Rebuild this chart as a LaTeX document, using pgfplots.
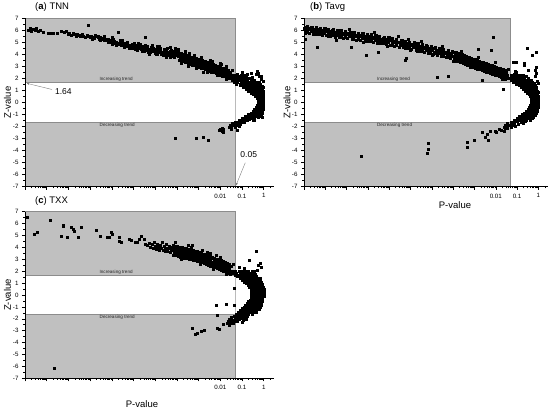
\documentclass[border=0pt]{standalone}
\usepackage{fontspec}
\setmainfont{Liberation Sans}
\usepackage{pgfplots}
\pgfplotsset{compat=1.18}
\usetikzlibrary{arrows.meta}
\definecolor{bggray}{RGB}{192,192,192}
\definecolor{edgegray}{RGB}{140,140,140}
\def\mlist{-12}
\foreach \k in {-11,...,0}{%
  \foreach \m in {0.301,0.477,0.602,0.699,0.778,0.845,0.903,0.954}{%
    \pgfmathparse{\k+\m}\xdef\mlist{\mlist,\pgfmathresult}}}
\pgfplotsset{panel/.style={
  scale only axis, anchor=south west, clip=false, axis on top,
  xmin=-11, xmax=0.45, ymin=-7, ymax=7,
  axis x line*=bottom, axis y line*=left, axis line style={-, black, line width=0.6pt},
  xtick={-11,...,0}, xticklabels={,,,,,,,,,0.01,0.1,1},
  minor xtick/.expanded={\mlist},
  ytick={-7,...,7}, minor y tick num=1,
  tick align=outside, major tick length=3pt, minor tick length=1.6pt,
  tick style={black, line width=0.5pt},
  tick label style={font=\fontsize{6.2}{7}\selectfont},
  xticklabel style={yshift=-0.5pt},
  /pgf/number format/assume math mode=true,
  ylabel={Z-value},
  ylabel style={font=\fontsize{9.5}{10}\selectfont, at={(axis description cs:-0.07,0.5)}, anchor=center},
},
pts/.style={only marks, mark=square*, mark size=1.0pt, black}}
\newcommand\regions{%
  \fill[bggray, draw=edgegray, line width=0.6pt] (axis cs:-11,1.64) rectangle (axis cs:-1.301,7);
  \fill[bggray, draw=edgegray, line width=0.6pt] (axis cs:-11,-7) rectangle (axis cs:-1.301,-1.64);
  \draw[edgegray!60, line width=0.5pt] (axis cs:-1.301,-1.64) -- (axis cs:-1.301,1.64);
  \node[font=\fontsize{4.6}{5}\selectfont, text=black!85, anchor=south, inner sep=0.6pt] at (axis cs:-6.8,1.66) {Increasing trend};
  \node[font=\fontsize{4.6}{5}\selectfont, text=black!85, anchor=north, inner sep=0.6pt] at (axis cs:-6.75,-1.66) {Decreasing trend};
}
\begin{document}
\begin{tikzpicture}
\useasboundingbox (0,0) rectangle (550pt,410pt);
% ---------------- (a) TNN ----------------
\begin{axis}[panel, at={(25pt,223.3pt)}, width=248.5pt, height=168.4pt]
\regions
\addplot[pts] coordinates {
(-10.85,6.05) (-10.75,6.15) (-10.7,5.95) (-10.62,6.1) (-10.55,6.0) (-10.48,6.2) (-10.4,5.9) (-10.3,6.05) (-10.15,5.85) (-9.95,5.75) (-9.8,5.72) (-9.7,5.8) (-9.5,5.75) (-9.35,5.9) (-9.2,5.85) (-9.1,5.95) (-9.02,5.7) (-8.95,5.8) (-8.88,5.6) (-8.8,5.75) (-8.72,5.65) (-8.65,5.55) (-8.6,5.7) (-8.52,5.6) (-8.45,5.5) (-8.38,5.65) (-8.3,5.55) (-8.22,5.45) (-8.1,6.45) (-8.15,5.6) (-8.08,5.5) (-8.0,5.4) (-7.95,5.55) (-7.88,5.45) (-7.8,5.35) (-7.72,5.5) (-7.65,5.4) (-7.6,5.3) (-7.52,5.45) (-7.45,5.25) (-7.4,5.35) (-7.33,5.2) (-7.28,5.3) (-7.2,5.15) (-7.15,5.25) (-7.08,5.05) (-7.02,5.2) (-6.95,5.0) (-6.9,5.1) (-6.85,4.9) (-6.78,5.05) (-6.72,4.95) (-6.7,5.85) (-6.65,4.85) (-6.6,5.0) (-6.55,4.8) (-6.5,4.9) (-6.45,4.75) (-6.4,4.95) (-6.35,4.7) (-6.3,4.85) (-6.25,4.65) (-6.2,4.8) (-6.15,4.75) (-6.1,4.6) (-6.05,4.85) (-6.0,4.7) (-5.95,4.55) (-5.9,4.75) (-5.85,4.6) (-5.8,4.5) (-5.75,4.7) (-5.7,4.55) (-5.65,4.45) (-5.6,4.65) (-5.55,4.4) (-5.5,4.6) (-5.45,5.4) (-5.45,4.5) (-5.4,4.35) (-5.35,4.55) (-5.3,4.45) (-5.25,4.3) (-5.2,4.5) (-5.15,4.4) (-5.1,4.25) (-5.05,4.45) (-5.0,4.35) (-4.95,4.2) (-4.9,4.4) (-4.85,4.3) (-4.8,4.15) (-4.75,4.35) (-4.7,4.2) (-4.65,4.1) (-4.6,4.3) (-4.55,4.05) (-4.5,4.2) (-4.45,4.5) (-4.4,4.0) (-4.35,4.15) (-4.3,4.25) (-4.25,3.95) (-4.2,4.1) (-4.15,3.85) (-4.1,4.05) (-4.05,4.2) (-4.0,3.9)
(-5.92,4.4) (-5.78,4.8) (-5.62,4.3) (-5.48,4.75) (-5.33,4.2) (-5.18,4.62) (-5.02,4.12) (-4.88,4.55) (-4.72,4.0) (-4.58,4.45) (-4.42,3.9) (-4.28,4.38) (-4.12,3.75) (-4.02,4.3) (-6.8,4.75) (-6.5,5.15) (-6.22,4.5) (-7.62,5.55) (-7.0,4.85) (-5.12,4.78) (-4.82,4.68) (-6.95,5.3) (-6.35,4.95) (-5.7,4.85) (-4.95,4.0) (-4.6,3.95) (-4.3,3.8) (-3.95,4.45)
(-7.9,5.25) (-7.75,5.62) (-7.55,5.15) (-7.35,5.5) (-7.18,5.0) (-6.98,5.42) (-6.82,4.8) (-6.62,5.2) (-6.42,4.62) (-6.28,5.05) (-6.12,4.48) (-5.98,4.92) (-5.82,4.35) (-5.68,4.62) (-5.52,4.25) (-5.38,4.65) (-5.22,4.15) (-5.08,4.55) (-4.92,4.05) (-4.78,4.48) (-4.62,3.92) (-4.48,4.32) (-4.32,3.88) (-4.18,4.25)
(-3.9,3.52) (-3.87,3.7) (-3.93,3.86) (-3.85,4.0) (-3.92,4.18)
(-3.8,3.48) (-3.77,3.64) (-3.83,3.8) (-3.75,3.97) (-3.82,4.12)
(-3.7,3.4) (-3.67,3.57) (-3.73,3.72) (-3.65,3.88) (-3.72,4.05)
(-3.6,3.32) (-3.57,3.5) (-3.63,3.66) (-3.55,3.8) (-3.62,3.98)
(-3.5,3.28) (-3.47,3.44) (-3.53,3.6) (-3.45,3.76) (-3.52,3.92)
(-3.4,3.2) (-3.37,3.37) (-3.43,3.53) (-3.35,3.7) (-3.42,3.86)
(-3.3,3.14) (-3.27,3.3) (-3.33,3.47) (-3.25,3.63) (-3.32,3.8)
(-3.2,3.07) (-3.17,3.24) (-3.23,3.4) (-3.15,3.56) (-3.22,3.72)
(-3.1,3.0) (-3.07,3.17) (-3.13,3.34) (-3.05,3.5) (-3.12,3.66)
(-3.0,2.95) (-2.97,3.12) (-3.03,3.28) (-2.95,3.44) (-3.02,3.6)
(-2.9,2.88) (-2.87,3.05) (-2.93,3.22) (-2.85,3.38) (-2.92,3.55)
(-2.8,2.82) (-2.77,2.98) (-2.83,3.15) (-2.75,3.3) (-2.82,3.48)
(-2.7,2.76) (-2.67,2.93) (-2.73,3.1) (-2.65,3.26) (-2.72,3.42)
(-2.6,2.68) (-2.57,2.85) (-2.63,3.02) (-2.55,3.18) (-2.62,3.35)
(-2.5,2.62) (-2.47,2.8) (-2.53,2.96) (-2.45,3.12) (-2.52,3.28)
(-2.4,2.56) (-2.37,2.73) (-2.43,2.9) (-2.35,3.06) (-2.42,3.22)
(-2.3,2.5) (-2.27,2.66) (-2.33,2.83) (-2.25,3.0) (-2.32,3.15)
(-2.2,2.42) (-2.17,2.6) (-2.23,2.76) (-2.15,2.92) (-2.22,3.08)
(-2.1,2.36) (-2.07,2.53) (-2.13,2.7) (-2.05,2.86) (-2.12,3.02)
(-2.0,2.3) (-1.97,2.46) (-2.03,2.63) (-1.95,2.8) (-2.02,2.95)
(-1.9,2.22) (-1.87,2.4) (-1.93,2.56) (-1.85,2.72) (-1.92,2.88)
(-1.8,2.15) (-1.77,2.33) (-1.83,2.5) (-1.75,2.66) (-1.82,2.82)
(-1.7,2.08) (-1.67,2.26) (-1.73,2.43) (-1.65,2.6) (-1.72,2.76)
(-1.6,2.0) (-1.57,2.18) (-1.63,2.36) (-1.55,2.52) (-1.62,2.68)
(-3.6,4.3) (-3.2,3.95) (-2.45,3.55) (-2.0,3.25) (-1.75,3.05) (-4.3,4.6) (-2.8,2.55) (-3.5,3.05)
(-1.5,2.3) (-1.35,2.28) (-1.2,2.32) (-1.05,2.3) (-0.9,2.27) (-0.6,2.4) (-0.3,2.6)
(-1.52,2.15) (-1.38,2.17) (-1.24,2.14) (-1.1,2.16) (-0.96,2.13) (-0.82,2.15) (-0.2,2.2)
(-1.5,2.0) (-1.36,1.98) (-1.22,2.02) (-1.08,1.99) (-0.94,2.01) (-0.8,1.98) (-0.66,2.0) (-0.1,1.95)
(-1.45,1.85) (-1.3,1.83) (-1.16,1.86) (-1.02,1.84) (-0.88,1.86) (-0.74,1.83) (-0.6,1.85) (-0.45,1.87)
(-1.35,1.7) (-1.2,1.68) (-1.06,1.71) (-0.92,1.69) (-0.78,1.71) (-0.64,1.68) (-0.5,1.7) (-0.36,1.72) (-0.2,1.7)
(-1.25,1.55) (-1.1,1.53) (-0.96,1.56) (-0.82,1.54) (-0.68,1.56) (-0.54,1.53) (-0.4,1.55) (-0.26,1.57) (-0.14,1.54)
(-1.1,1.4) (-0.96,1.38) (-0.82,1.41) (-0.68,1.39) (-0.55,1.41) (-0.42,1.38) (-0.3,1.4) (-0.18,1.42) (-0.08,1.38)
(-0.95,1.25) (-0.82,1.23) (-0.7,1.26) (-0.58,1.24) (-0.46,1.26) (-0.35,1.23) (-0.24,1.25) (-0.14,1.27) (-0.05,1.3)
(-0.8,1.1) (-0.68,1.08) (-0.57,1.11) (-0.46,1.09) (-0.36,1.11) (-0.26,1.08) (-0.17,1.1) (-0.08,1.12)
(-0.7,0.95) (-0.58,0.93) (-0.47,0.96) (-0.37,0.94) (-0.28,0.96) (-0.19,0.93) (-0.11,0.95) (-0.04,0.97)
(-0.58,0.8) (-0.47,0.78) (-0.37,0.81) (-0.28,0.79) (-0.2,0.81) (-0.12,0.78) (-0.05,0.8)
(-0.48,0.65) (-0.38,0.63) (-0.29,0.66) (-0.21,0.64) (-0.14,0.66) (-0.07,0.63) (-0.02,0.65)
(-0.4,0.5) (-0.31,0.48) (-0.23,0.51) (-0.16,0.49) (-0.1,0.51) (-0.04,0.48) (-0.01,0.5)
(-0.32,0.35) (-0.24,0.33) (-0.17,0.36) (-0.11,0.34) (-0.06,0.36) (-0.02,0.33)
(-0.27,0.2) (-0.2,0.18) (-0.14,0.21) (-0.08,0.19) (-0.04,0.21) (-0.01,0.18)
(-0.25,0.05) (-0.18,0.03) (-0.12,0.06) (-0.07,0.04) (-0.03,0.06) (-0.01,0.03)
(-0.27,-0.1) (-0.2,-0.12) (-0.13,-0.09) (-0.08,-0.11) (-0.04,-0.09) (-0.01,-0.12)
(-0.3,-0.25) (-0.22,-0.27) (-0.15,-0.24) (-0.09,-0.26) (-0.04,-0.24) (-0.01,-0.27)
(-0.35,-0.4) (-0.27,-0.42) (-0.19,-0.39) (-0.12,-0.41) (-0.06,-0.39) (-0.02,-0.42)
(-0.42,-0.55) (-0.33,-0.57) (-0.24,-0.54) (-0.16,-0.56) (-0.09,-0.54) (-0.03,-0.57)
(-0.5,-0.7) (-0.4,-0.72) (-0.3,-0.69) (-0.21,-0.71) (-0.13,-0.69) (-0.05,-0.72)
(-0.6,-0.85) (-0.48,-0.87) (-0.37,-0.84) (-0.27,-0.86) (-0.17,-0.84) (-0.08,-0.87)
(-0.72,-1.0) (-0.6,-1.02) (-0.48,-0.99) (-0.36,-1.01) (-0.24,-0.99) (-0.12,-1.03)
(-0.85,-1.15) (-0.72,-1.17) (-0.6,-1.14) (-0.48,-1.16) (-0.36,-1.14) (-0.05,-1.2)
(-1.0,-1.3) (-0.86,-1.32) (-0.72,-1.29) (-0.58,-1.31) (-0.44,-1.3)
(-1.15,-1.45) (-1.02,-1.47) (-0.88,-1.44) (-0.74,-1.46) (-0.5,-1.5)
(-1.3,-1.6) (-1.18,-1.62) (-1.05,-1.59) (-0.9,-1.63)
(-1.45,-1.75) (-1.32,-1.77) (-1.2,-1.74) (-1.08,-1.78)
(-1.55,-1.9) (-1.42,-1.92) (-1.28,-1.88) (-1.15,-1.93)
(-1.6,-2.05) (-1.48,-2.08) (-1.3,-2.02) (-1.9,-2.1)
(-1.85,-2.25) (-2.05,-2.3) (-1.5,-2.2) (-1.2,-2.3)
(-0.37,2.35) (-0.25,2.45) (-0.1,2.2) (-0.03,1.75) (-0.02,1.3)
(-4.09,-3.0) (-3.09,-3.0) (-2.8,-2.9) (-2.55,-3.15) (-2.0,-2.2) (-1.9,-2.35) (-1.85,-2.45)
(-5.8,4.95) (-5.3,4.02) (-4.9,4.66) (-4.5,3.78) (-4.08,4.52) (-3.78,3.3) (-3.45,4.08) (-3.12,2.82) (-2.88,3.76) (-2.6,2.5) (-2.36,3.46) (-2.16,2.24) (-1.96,3.16) (-1.72,1.94) (-1.45,2.72) (-1.26,1.86) (-1.0,2.5) (-0.78,2.35) (-0.55,2.1) (-0.42,-1.45) (-0.25,-1.25) (-0.65,-1.38) (-1.0,-1.62) (-0.15,-1.1)
};
\draw[gray, line width=0.4pt, -{Latex[length=2.5pt,width=2pt]}] (axis cs:-9.75,1.08) -- (axis cs:-10.93,1.6);
\node[font=\fontsize{8.5}{9}\selectfont, anchor=west, inner sep=0pt] at (axis cs:-9.62,0.93) {1.64};
\draw[gray, line width=0.4pt, -{Latex[length=2.5pt,width=2pt]}] (axis cs:-0.85,-5.0) -- (axis cs:-1.28,-6.9);
\node[font=\fontsize{8.5}{9}\selectfont, inner sep=0pt] at (axis cs:-0.69,-4.36) {0.05};
\end{axis}
% ---------------- (b) Tavg ----------------
\begin{axis}[panel, at={(304pt,223.3pt)}, width=244pt, height=168.4pt]
\regions
\addplot[pts] coordinates {
(-10.95,5.8) (-10.88,6.0) (-10.98,6.2) (-10.85,6.35)
(-10.75,5.75) (-10.68,5.95) (-10.78,6.15) (-10.65,6.3)
(-10.55,5.7) (-10.48,5.9) (-10.58,6.1) (-10.45,6.25)
(-10.35,5.65) (-10.28,5.85) (-10.38,6.05) (-10.25,6.2)
(-10.15,5.6) (-10.08,5.8) (-10.18,6.0) (-10.05,6.15)
(-9.95,5.56) (-9.88,5.76) (-9.98,5.96) (-9.85,6.12)
(-9.75,5.52) (-9.68,5.72) (-9.78,5.92) (-9.65,6.08)
(-9.55,5.47) (-9.48,5.67) (-9.58,5.87) (-9.45,6.03)
(-9.35,5.42) (-9.28,5.62) (-9.38,5.82) (-9.25,5.98)
(-9.15,5.37) (-9.08,5.57) (-9.18,5.77) (-9.05,5.93)
(-8.95,5.32) (-8.88,5.52) (-8.98,5.72) (-8.85,5.88)
(-8.75,5.27) (-8.68,5.47) (-8.78,5.67) (-8.65,5.83)
(-8.55,5.22) (-8.48,5.42) (-8.58,5.62) (-8.45,5.78)
(-8.35,5.18) (-8.28,5.38) (-8.38,5.58) (-8.25,5.74)
(-8.15,5.13) (-8.08,5.33) (-8.18,5.53) (-8.05,5.69)
(-7.95,5.08) (-7.88,5.28) (-7.98,5.48) (-7.85,5.64)
(-7.75,5.02) (-7.68,5.22) (-7.78,5.42) (-7.65,5.58)
(-7.55,4.96) (-7.48,5.16) (-7.58,5.36) (-7.45,5.52)
(-7.35,4.9) (-7.28,5.1) (-7.38,5.3) (-7.25,5.46)
(-7.15,4.84) (-7.08,5.04) (-7.18,5.24) (-7.05,5.4)
(-6.95,4.78) (-6.88,4.98) (-6.98,5.18) (-6.85,5.34)
(-6.75,4.7) (-6.68,4.9) (-6.78,5.1) (-6.65,5.26)
(-6.55,4.63) (-6.48,4.83) (-6.58,5.03) (-6.45,5.19)
(-6.35,4.56) (-6.28,4.76) (-6.38,4.96) (-6.25,5.12)
(-6.15,4.49) (-6.08,4.69) (-6.18,4.89) (-6.05,5.05)
(-5.95,4.42) (-5.88,4.62) (-5.98,4.82) (-5.85,4.98)
(-5.75,4.34) (-5.68,4.54) (-5.78,4.74) (-5.65,4.9)
(-5.55,4.26) (-5.48,4.46) (-5.58,4.66) (-5.45,4.82)
(-5.35,4.18) (-5.28,4.38) (-5.38,4.58) (-5.25,4.74)
(-5.15,4.1) (-5.08,4.3) (-5.18,4.5) (-5.05,4.66)
(-4.95,4.02) (-4.88,4.22) (-4.98,4.42) (-4.85,4.58)
(-4.75,3.94) (-4.68,4.14) (-4.78,4.34) (-4.65,4.5)
(-4.55,3.85) (-4.48,4.05) (-4.58,4.25) (-4.45,4.41)
(-4.35,3.76) (-4.28,3.96) (-4.38,4.16) (-4.25,4.32)
(-4.15,3.67) (-4.08,3.87) (-4.18,4.07) (-4.05,4.23)
(-10.85,5.85) (-10.81,6.09) (-10.88,6.27) (-10.63,5.9) (-10.69,6.12) (-10.6,6.3) (-10.47,5.67) (-10.42,5.92) (-10.45,6.12)
(-10.25,5.7) (-10.21,5.94) (-10.28,6.12) (-10.03,5.76) (-10.09,5.98) (-10.0,6.16) (-9.87,5.54) (-9.82,5.79) (-9.85,5.99)
(-9.65,5.58) (-9.61,5.82) (-9.68,6.0) (-9.43,5.63) (-9.49,5.85) (-9.4,6.03) (-9.27,5.4) (-9.22,5.65) (-9.25,5.85)
(-9.05,5.43) (-9.01,5.67) (-9.08,5.85) (-8.83,5.48) (-8.89,5.7) (-8.8,5.88) (-8.67,5.25) (-8.62,5.5) (-8.65,5.7)
(-8.45,5.28) (-8.41,5.52) (-8.48,5.7) (-8.23,5.33) (-8.29,5.55) (-8.2,5.73) (-8.07,5.1) (-8.02,5.35) (-8.05,5.55)
(-7.85,5.13) (-7.81,5.37) (-7.88,5.55) (-7.63,5.17) (-7.69,5.39) (-7.6,5.57) (-7.47,4.93) (-7.42,5.18) (-7.45,5.38)
(-7.25,4.95) (-7.21,5.19) (-7.28,5.37) (-7.03,4.99) (-7.09,5.21) (-7.0,5.39) (-6.87,4.74) (-6.82,4.99) (-6.85,5.19)
(-6.65,4.75) (-6.61,4.99) (-6.68,5.17) (-6.43,4.78) (-6.49,5.0) (-6.4,5.18) (-6.27,4.53) (-6.22,4.78) (-6.25,4.98)
(-6.05,4.54) (-6.01,4.78) (-6.08,4.96) (-5.83,4.56) (-5.89,4.78) (-5.8,4.96) (-5.67,4.3) (-5.62,4.55) (-5.65,4.75)
(-5.45,4.3) (-5.41,4.54) (-5.48,4.72) (-5.23,4.32) (-5.29,4.54) (-5.2,4.72) (-5.07,4.06) (-5.02,4.31) (-5.05,4.51)
(-4.85,4.06) (-4.81,4.3) (-4.88,4.48) (-4.63,4.08) (-4.69,4.3) (-4.6,4.48) (-4.47,3.81) (-4.42,4.06) (-4.45,4.26)
(-4.25,3.8) (-4.21,4.04) (-4.28,4.22) (-4.03,3.81) (-4.09,4.03) (-4.0,4.21)
(-3.95,3.52) (-3.92,3.7) (-3.98,3.88) (-3.9,4.06) (-3.97,4.22)
(-3.85,3.47) (-3.82,3.65) (-3.88,3.83) (-3.8,4.01) (-3.87,4.17)
(-3.75,3.41) (-3.72,3.59) (-3.78,3.77) (-3.7,3.95) (-3.77,4.11)
(-3.65,3.34) (-3.62,3.52) (-3.68,3.7) (-3.6,3.88) (-3.67,4.04)
(-3.55,3.28) (-3.52,3.46) (-3.58,3.64) (-3.5,3.82) (-3.57,3.98)
(-3.45,3.21) (-3.42,3.39) (-3.48,3.57) (-3.4,3.75) (-3.47,3.91)
(-3.35,3.14) (-3.32,3.32) (-3.38,3.5) (-3.3,3.68) (-3.37,3.84)
(-3.25,3.07) (-3.22,3.25) (-3.28,3.43) (-3.2,3.61) (-3.27,3.77)
(-3.15,3.0) (-3.12,3.18) (-3.18,3.36) (-3.1,3.54) (-3.17,3.7)
(-3.05,2.93) (-3.02,3.11) (-3.08,3.29) (-3.0,3.47) (-3.07,3.63)
(-2.95,2.86) (-2.92,3.04) (-2.98,3.22) (-2.9,3.4) (-2.97,3.56)
(-2.85,2.8) (-2.82,2.98) (-2.88,3.16) (-2.8,3.34) (-2.87,3.5)
(-2.75,2.74) (-2.72,2.92) (-2.78,3.1) (-2.7,3.28) (-2.77,3.44)
(-2.65,2.68) (-2.62,2.86) (-2.68,3.04) (-2.6,3.22) (-2.67,3.38)
(-2.55,2.62) (-2.52,2.8) (-2.58,2.98) (-2.5,3.16) (-2.57,3.32)
(-2.45,2.56) (-2.42,2.74) (-2.48,2.92) (-2.4,3.1) (-2.47,3.26)
(-2.35,2.5) (-2.32,2.68) (-2.38,2.86) (-2.3,3.04) (-2.37,3.2)
(-2.25,2.44) (-2.22,2.62) (-2.28,2.8) (-2.2,2.98) (-2.27,3.14)
(-2.15,2.37) (-2.12,2.55) (-2.18,2.73) (-2.1,2.91) (-2.17,3.07)
(-2.05,2.31) (-2.02,2.49) (-2.08,2.67) (-2.0,2.85) (-2.07,3.01)
(-1.95,2.24) (-1.92,2.42) (-1.98,2.6) (-1.9,2.78) (-1.97,2.94)
(-1.85,2.18) (-1.82,2.36) (-1.88,2.54) (-1.8,2.72) (-1.87,2.88)
(-1.75,2.11) (-1.72,2.29) (-1.78,2.47) (-1.7,2.65) (-1.77,2.81)
(-1.65,2.04) (-1.62,2.22) (-1.68,2.4) (-1.6,2.58) (-1.67,2.74)
(-1.55,1.97) (-1.52,2.15) (-1.58,2.33) (-1.5,2.51) (-1.57,2.67)
(-3.9,3.6) (-3.93,3.78) (-3.88,3.95) (-3.91,4.12) (-3.8,3.54) (-3.83,3.72) (-3.78,3.89) (-3.81,4.06)
(-3.7,3.47) (-3.73,3.65) (-3.68,3.82) (-3.71,3.99) (-3.6,3.41) (-3.63,3.59) (-3.58,3.76) (-3.61,3.93)
(-3.5,3.34) (-3.53,3.52) (-3.48,3.69) (-3.51,3.86) (-3.4,3.27) (-3.43,3.45) (-3.38,3.62) (-3.41,3.79)
(-3.3,3.2) (-3.33,3.38) (-3.28,3.55) (-3.31,3.72) (-3.2,3.13) (-3.23,3.31) (-3.18,3.48) (-3.21,3.65)
(-3.1,3.06) (-3.13,3.24) (-3.08,3.41) (-3.11,3.58) (-3.0,2.99) (-3.03,3.17) (-2.98,3.34) (-3.01,3.51)
(-2.9,2.93) (-2.93,3.11) (-2.88,3.28) (-2.91,3.45) (-2.8,2.87) (-2.83,3.05) (-2.78,3.22) (-2.81,3.39)
(-2.7,2.81) (-2.73,2.99) (-2.68,3.16) (-2.71,3.33) (-2.6,2.75) (-2.63,2.93) (-2.58,3.1) (-2.61,3.27)
(-2.5,2.69) (-2.53,2.87) (-2.48,3.04) (-2.51,3.21) (-2.4,2.63) (-2.43,2.81) (-2.38,2.98) (-2.41,3.15)
(-2.3,2.57) (-2.33,2.75) (-2.28,2.92) (-2.31,3.09) (-2.2,2.5) (-2.23,2.68) (-2.18,2.85) (-2.21,3.02)
(-2.1,2.44) (-2.13,2.62) (-2.08,2.79) (-2.11,2.96) (-2.0,2.37) (-2.03,2.55) (-1.98,2.72) (-2.01,2.89)
(-1.9,2.31) (-1.93,2.49) (-1.88,2.66) (-1.91,2.83) (-1.8,2.24) (-1.83,2.42) (-1.78,2.59) (-1.81,2.76)
(-1.7,2.17) (-1.73,2.35) (-1.68,2.52) (-1.71,2.69) (-1.6,2.1) (-1.63,2.28) (-1.58,2.45) (-1.61,2.62)
(-1.45,2.3) (-1.3,2.28) (-1.15,2.32) (-1.0,2.29) (-0.85,2.31) (-0.7,2.28)
(-1.45,2.15) (-1.3,2.13) (-1.15,2.16) (-1.0,2.14) (-0.85,2.16) (-0.7,2.13) (-0.55,2.15)
(-1.4,2.0) (-1.25,1.98) (-1.1,2.01) (-0.95,1.99) (-0.8,2.01) (-0.65,1.98) (-0.5,2.0)
(-1.3,1.85) (-1.15,1.83) (-1.0,1.86) (-0.86,1.84) (-0.72,1.86) (-0.58,1.83) (-0.45,1.85) (-0.32,1.87)
(-1.2,1.7) (-1.06,1.68) (-0.92,1.71) (-0.78,1.69) (-0.65,1.71) (-0.52,1.68) (-0.4,1.7) (-0.28,1.72)
(-1.05,1.55) (-0.92,1.53) (-0.8,1.56) (-0.68,1.54) (-0.56,1.56) (-0.44,1.53) (-0.33,1.55) (-0.22,1.57)
(-0.92,1.4) (-0.8,1.38) (-0.68,1.41) (-0.57,1.39) (-0.46,1.41) (-0.36,1.38) (-0.26,1.4) (-0.17,1.42)
(-0.8,1.25) (-0.69,1.23) (-0.58,1.26) (-0.48,1.24) (-0.38,1.26) (-0.29,1.23) (-0.2,1.25) (-0.12,1.27)
(-0.7,1.1) (-0.6,1.08) (-0.5,1.11) (-0.41,1.09) (-0.32,1.11) (-0.24,1.08) (-0.16,1.1) (-0.09,1.12)
(-0.6,0.95) (-0.51,0.93) (-0.42,0.96) (-0.34,0.94) (-0.26,0.96) (-0.19,0.93) (-0.12,0.95) (-0.05,0.97)
(-0.52,0.8) (-0.44,0.78) (-0.36,0.81) (-0.28,0.79) (-0.21,0.81) (-0.14,0.78) (-0.07,0.8) (-0.02,0.82)
(-0.45,0.65) (-0.37,0.63) (-0.3,0.66) (-0.23,0.64) (-0.16,0.66) (-0.1,0.63) (-0.04,0.65)
(-0.4,0.5) (-0.32,0.48) (-0.25,0.51) (-0.18,0.49) (-0.12,0.51) (-0.06,0.48) (-0.01,0.5)
(-0.36,0.35) (-0.28,0.33) (-0.21,0.36) (-0.15,0.34) (-0.09,0.36) (-0.04,0.33) (0.0,0.35)
(-0.33,0.2) (-0.26,0.18) (-0.19,0.21) (-0.13,0.19) (-0.07,0.21) (-0.02,0.18)
(-0.32,0.05) (-0.25,0.03) (-0.18,0.06) (-0.12,0.04) (-0.06,0.06) (-0.01,0.03)
(-0.34,-0.1) (-0.26,-0.12) (-0.19,-0.09) (-0.12,-0.11) (-0.06,-0.09) (-0.01,-0.12)
(-0.38,-0.25) (-0.3,-0.27) (-0.22,-0.24) (-0.14,-0.26) (-0.07,-0.24) (-0.02,-0.27)
(-0.44,-0.4) (-0.35,-0.42) (-0.26,-0.39) (-0.18,-0.41) (-0.1,-0.39) (-0.03,-0.42)
(-0.5,-0.55) (-0.4,-0.57) (-0.31,-0.54) (-0.22,-0.56) (-0.13,-0.54) (-0.05,-0.57)
(-0.58,-0.7) (-0.47,-0.72) (-0.37,-0.69) (-0.27,-0.71) (-0.17,-0.69) (-0.08,-0.72)
(-0.66,-0.85) (-0.55,-0.87) (-0.44,-0.84) (-0.33,-0.86) (-0.22,-0.84) (-0.12,-0.87)
(-0.76,-1.0) (-0.64,-1.02) (-0.52,-0.99) (-0.4,-1.01) (-0.28,-0.99) (-0.17,-1.03)
(-0.88,-1.15) (-0.75,-1.17) (-0.62,-1.14) (-0.5,-1.16) (-0.38,-1.14) (-0.25,-1.2)
(-1.0,-1.3) (-0.86,-1.32) (-0.72,-1.29) (-0.58,-1.31) (-0.44,-1.3)
(-1.15,-1.45) (-1.0,-1.47) (-0.85,-1.44) (-0.7,-1.46) (-0.55,-1.5)
(-1.3,-1.6) (-1.15,-1.62) (-1.0,-1.59) (-0.8,-1.63) (-0.6,-1.58)
(-1.45,-1.75) (-1.3,-1.77) (-1.15,-1.74) (-0.95,-1.78)
(-1.55,-1.9) (-1.4,-1.92) (-1.25,-1.88) (-1.1,-1.95)
(-1.62,-2.05) (-1.45,-2.08) (-1.3,-2.02)
(-1.57,-2.16) (-1.97,-2.44) (-2.03,-2.37) (-1.83,-2.26) (-2.24,-2.37) (-2.66,-2.44) (-2.42,-2.64) (-2.5,-2.9) (-2.35,-3.13) (-3.02,-3.13) (-3.36,-3.32) (-3.33,-3.74) (-5.16,-3.4) (-5.18,-3.9) (-5.24,-4.24) (-8.32,-4.46) (-1.6,-2.4) (-1.45,-2.1) (-1.75,-2.3)
(-10.95,5.3) (-10.4,4.6) (-8.8,4.63) (-8.08,3.94) (-7.52,4.21) (-6.25,3.52) (-6.2,3.7) (-6.1,5.24) (-4.75,2.13) (-2.13,5.46) (-2.84,4.41) (-2.2,4.35) (-0.54,4.49) (-0.3,3.94) (-0.11,4.21) (-1.06,3.38) (-0.65,3.1) (-0.14,2.69) (-0.14,2.19) (-1.17,3.37) (-0.67,3.3) (-0.1,2.9) (-0.5,2.7) (-1.11,2.6) (-0.1,2.4) (-0.05,1.8) (-0.02,1.6) (-1.65,1.08) (-4.23,2.19) (-2.66,1.85)
(-9.5,5.22) (-8.9,6.1) (-8.2,5.0) (-7.7,5.85) (-7.1,4.7) (-6.6,5.5) (-6.0,4.35) (-5.5,5.1) (-5.0,3.92) (-4.5,4.7) (-4.02,3.45) (-3.62,4.3) (-3.22,2.95) (-2.82,3.76) (-2.42,2.5) (-2.02,3.35) (-1.72,1.92) (-1.42,2.76) (-1.02,2.55) (-0.4,-1.5) (-0.7,-1.7) (-0.3,-1.3) (-1.2,-1.68)
};
\end{axis}
% ---------------- (c) TXX ----------------
\begin{axis}[panel, at={(25pt,31.7pt)}, width=248.5pt, height=166.6pt]
\regions
\addplot[pts] coordinates {
(-10.89,6.5) (-10.58,5.13) (-10.46,5.27) (-9.85,6.27) (-9.35,4.96) (-9.26,5.8) (-9.22,5.85) (-9.05,4.85) (-8.85,5.66) (-8.78,5.55) (-8.72,5.4) (-8.54,4.85) (-8.4,5.69) (-7.71,5.41) (-7.54,4.9) (-7.2,4.85) (-7.1,4.85) (-7.05,5.24) (-7.0,5.13) (-6.64,4.87) (-6.59,4.43) (-6.65,4.48) (-6.2,4.68) (-6.1,4.6) (-5.9,4.43) (-5.83,4.45) (-5.72,4.7) (-5.64,4.9) (-5.52,4.68) (-5.44,4.26) (-5.37,4.2)
(-5.28,4.35) (-5.22,4.05) (-5.15,4.25) (-5.1,3.92) (-5.05,4.4) (-5.0,4.1) (-4.95,3.85) (-4.9,4.3) (-4.85,4.0) (-4.8,3.75) (-4.76,4.18) (-4.72,3.95) (-4.68,4.45) (-4.64,3.8) (-4.6,4.1) (-4.56,3.65) (-4.52,3.95) (-4.48,4.25) (-4.44,3.72) (-4.4,3.9) (-4.36,4.1) (-4.32,3.6) (-4.28,3.82) (-4.24,4.0)
(-4.15,3.36) (-4.12,3.58) (-4.18,3.78) (-4.1,3.98) (-4.17,4.18)
(-4.05,3.31) (-4.02,3.53) (-4.08,3.73) (-4.0,3.93) (-4.07,4.13)
(-3.95,3.26) (-3.92,3.48) (-3.98,3.68) (-3.9,3.88) (-3.97,4.08)
(-3.85,3.21) (-3.82,3.43) (-3.88,3.63) (-3.8,3.83) (-3.87,4.03)
(-3.75,3.17) (-3.72,3.39) (-3.78,3.59) (-3.7,3.79) (-3.77,3.99)
(-3.65,3.13) (-3.62,3.35) (-3.68,3.55) (-3.6,3.75) (-3.67,3.95)
(-3.55,3.09) (-3.52,3.31) (-3.58,3.51) (-3.5,3.71) (-3.57,3.91)
(-3.45,3.05) (-3.42,3.27) (-3.48,3.47) (-3.4,3.67) (-3.47,3.87)
(-3.35,3.0) (-3.32,3.22) (-3.38,3.42) (-3.3,3.62) (-3.37,3.82)
(-3.25,2.95) (-3.22,3.17) (-3.28,3.37) (-3.2,3.57) (-3.27,3.77)
(-3.15,2.9) (-3.12,3.12) (-3.18,3.32) (-3.1,3.52) (-3.17,3.72)
(-3.05,2.85) (-3.02,3.07) (-3.08,3.27) (-3.0,3.47) (-3.07,3.67)
(-2.95,2.79) (-2.92,3.01) (-2.98,3.21) (-2.9,3.41) (-2.97,3.61)
(-2.85,2.72) (-2.82,2.94) (-2.88,3.14) (-2.8,3.34) (-2.87,3.54)
(-2.75,2.65) (-2.72,2.87) (-2.78,3.07) (-2.7,3.27) (-2.77,3.47)
(-2.65,2.58) (-2.62,2.8) (-2.68,3.0) (-2.6,3.2) (-2.67,3.4)
(-2.55,2.51) (-2.52,2.73) (-2.58,2.93) (-2.5,3.13) (-2.57,3.33)
(-2.45,2.44) (-2.42,2.66) (-2.48,2.86) (-2.4,3.06) (-2.47,3.26)
(-2.35,2.37) (-2.32,2.59) (-2.38,2.79) (-2.3,2.99) (-2.37,3.19)
(-2.25,2.3) (-2.22,2.52) (-2.28,2.72) (-2.2,2.92) (-2.27,3.12)
(-2.15,2.23) (-2.12,2.45) (-2.18,2.65) (-2.1,2.85) (-2.17,3.05)
(-2.05,2.16) (-2.02,2.38) (-2.08,2.58) (-2.0,2.78) (-2.07,2.98)
(-1.95,2.08) (-1.92,2.3) (-1.98,2.5) (-1.9,2.7) (-1.97,2.9)
(-1.85,2.0) (-1.82,2.22) (-1.88,2.42) (-1.8,2.62) (-1.87,2.82)
(-1.75,1.92) (-1.72,2.14) (-1.78,2.34) (-1.7,2.54) (-1.77,2.74)
(-1.65,1.84) (-1.62,2.06) (-1.68,2.26) (-1.6,2.46) (-1.67,2.66)
(-1.55,1.76) (-1.52,1.98) (-1.58,2.18) (-1.5,2.38) (-1.57,2.58)
(-3.3,4.15) (-2.85,3.8) (-2.45,3.55) (-3.5,4.2) (-4.1,4.4) (-2.2,3.35)
(-1.45,2.0) (-1.3,1.98) (-1.15,2.01) (-1.0,1.99) (-0.85,2.01) (-0.7,1.98) (-0.55,2.0) (-0.45,2.02)
(-1.4,1.85) (-1.25,1.83) (-1.1,1.86) (-0.96,1.84) (-0.82,1.86) (-0.68,1.83) (-0.55,1.85) (-0.42,1.87)
(-1.3,1.7) (-1.16,1.68) (-1.02,1.71) (-0.88,1.69) (-0.75,1.71) (-0.62,1.68) (-0.5,1.7) (-0.38,1.72)
(-1.2,1.55) (-1.07,1.53) (-0.94,1.56) (-0.81,1.54) (-0.69,1.56) (-0.57,1.53) (-0.45,1.55) (-0.33,1.57)
(-1.1,1.4) (-0.97,1.38) (-0.85,1.41) (-0.73,1.39) (-0.61,1.41) (-0.5,1.38) (-0.39,1.4) (-0.28,1.42) (-0.18,1.39)
(-1.0,1.25) (-0.88,1.23) (-0.76,1.26) (-0.65,1.24) (-0.54,1.26) (-0.44,1.23) (-0.34,1.25) (-0.24,1.27) (-0.15,1.24)
(-0.9,1.1) (-0.79,1.08) (-0.68,1.11) (-0.58,1.09) (-0.48,1.11) (-0.38,1.08) (-0.29,1.1) (-0.2,1.12) (-0.12,1.09)
(-0.8,0.95) (-0.7,0.93) (-0.6,0.96) (-0.5,0.94) (-0.41,0.96) (-0.32,0.93) (-0.23,0.95) (-0.15,0.97) (-0.08,0.94)
(-0.72,0.8) (-0.62,0.78) (-0.53,0.81) (-0.44,0.79) (-0.35,0.81) (-0.27,0.78) (-0.19,0.8) (-0.11,0.82) (-0.05,0.79)
(-0.65,0.65) (-0.56,0.63) (-0.47,0.66) (-0.38,0.64) (-0.3,0.66) (-0.22,0.63) (-0.15,0.65) (-0.08,0.67) (-0.02,0.64)
(-0.6,0.5) (-0.51,0.48) (-0.42,0.51) (-0.34,0.49) (-0.26,0.51) (-0.18,0.48) (-0.11,0.5) (-0.05,0.52) (0.0,0.49)
(-0.56,0.35) (-0.47,0.33) (-0.38,0.36) (-0.3,0.34) (-0.22,0.36) (-0.15,0.33) (-0.08,0.35) (-0.02,0.37)
(-0.55,0.2) (-0.45,0.18) (-0.36,0.21) (-0.28,0.19) (-0.2,0.21) (-0.13,0.18) (-0.06,0.2) (0.0,0.22)
(-0.56,0.05) (-0.46,0.03) (-0.37,0.06) (-0.28,0.04) (-0.2,0.06) (-0.12,0.03) (-0.05,0.05) (0.0,0.07)
(-0.58,-0.1) (-0.48,-0.12) (-0.38,-0.09) (-0.29,-0.11) (-0.2,-0.09) (-0.12,-0.12) (-0.05,-0.1) (0.0,-0.08)
(-0.6,-0.25) (-0.5,-0.27) (-0.4,-0.24) (-0.3,-0.26) (-0.21,-0.24) (-0.13,-0.27) (-0.06,-0.25)
(-0.64,-0.4) (-0.54,-0.42) (-0.44,-0.39) (-0.34,-0.41) (-0.24,-0.39) (-0.15,-0.42) (-0.07,-0.4)
(-0.7,-0.55) (-0.59,-0.57) (-0.48,-0.54) (-0.37,-0.56) (-0.27,-0.54) (-0.17,-0.57) (-0.08,-0.55)
(-0.76,-0.7) (-0.65,-0.72) (-0.53,-0.69) (-0.42,-0.71) (-0.31,-0.69) (-0.2,-0.72) (-0.1,-0.7)
(-0.84,-0.85) (-0.72,-0.87) (-0.6,-0.84) (-0.48,-0.86) (-0.36,-0.84) (-0.24,-0.87) (-0.13,-0.85)
(-0.92,-1.0) (-0.8,-1.02) (-0.67,-0.99) (-0.55,-1.01) (-0.43,-0.99) (-0.3,-1.03) (-0.18,-1.0)
(-1.0,-1.15) (-0.87,-1.17) (-0.74,-1.14) (-0.61,-1.16) (-0.48,-1.14) (-0.35,-1.18)
(-1.08,-1.3) (-0.95,-1.32) (-0.82,-1.29) (-0.68,-1.31) (-0.55,-1.3) (-0.42,-1.33)
(-1.18,-1.45) (-1.04,-1.47) (-0.9,-1.44) (-0.76,-1.46) (-0.62,-1.45) (-0.48,-1.48)
(-1.27,-1.6) (-1.13,-1.62) (-0.99,-1.59) (-0.85,-1.63) (-0.7,-1.6) (-0.55,-1.62)
(-1.38,-1.75) (-1.23,-1.77) (-1.08,-1.74) (-0.93,-1.78) (-0.78,-1.76)
(-1.48,-1.9) (-1.33,-1.92) (-1.18,-1.88) (-1.03,-1.93) (-0.88,-1.9)
(-1.58,-2.05) (-1.43,-2.08) (-1.28,-2.02) (-1.12,-2.06) (-0.95,-2.1)
(-1.65,-2.2) (-1.5,-2.22) (-1.35,-2.18) (-1.2,-2.24)
(-1.7,-2.35) (-1.55,-2.38) (-1.4,-2.33) (-1.85,-2.45) (-1.6,-2.5)
(-0.37,3.64) (-0.26,2.5) (-0.68,2.94) (-0.14,2.66) (-1.37,0.56) (-1.75,-0.78) (-2.17,-0.84) (-2.14,-1.68) (-1.37,-0.84) (-3.29,-2.8) (-3.17,-3.3) (-3.07,-3.17) (-2.86,-3.03) (-2.76,-2.94) (-2.14,-2.8) (-2.05,-2.86) (-9.66,-6.15) (-0.1,2.3) (-0.3,2.1)
(-3.8,3.02) (-3.32,3.98) (-2.92,2.6) (-2.62,3.56) (-2.32,2.2) (-2.02,3.2) (-1.72,1.75) (-1.42,2.62) (-1.12,2.3) (-0.92,2.22) (-0.35,-1.45) (-0.2,-1.2) (-0.8,-2.0) (-1.0,-2.25)
};
\end{axis}
% ---------------- titles and x labels ----------------
\node[font=\fontsize{9.5}{10}\selectfont, anchor=base west, inner sep=0pt] at (35pt,400.5pt) {(\textbf{a}) TNN};
\node[font=\fontsize{9.5}{10}\selectfont, anchor=base west, inner sep=0pt] at (310pt,400.5pt) {(\textbf{b}) Tavg};
\node[font=\fontsize{9.5}{10}\selectfont, anchor=base west, inner sep=0pt] at (35pt,206pt) {(\textbf{c}) TXX};
\node[font=\fontsize{9.5}{10}\selectfont, inner sep=0pt] at (455pt,205pt) {P-value};
\node[font=\fontsize{9.5}{10}\selectfont, inner sep=0pt] at (142pt,6pt) {P-value};
\end{tikzpicture}
\end{document}
